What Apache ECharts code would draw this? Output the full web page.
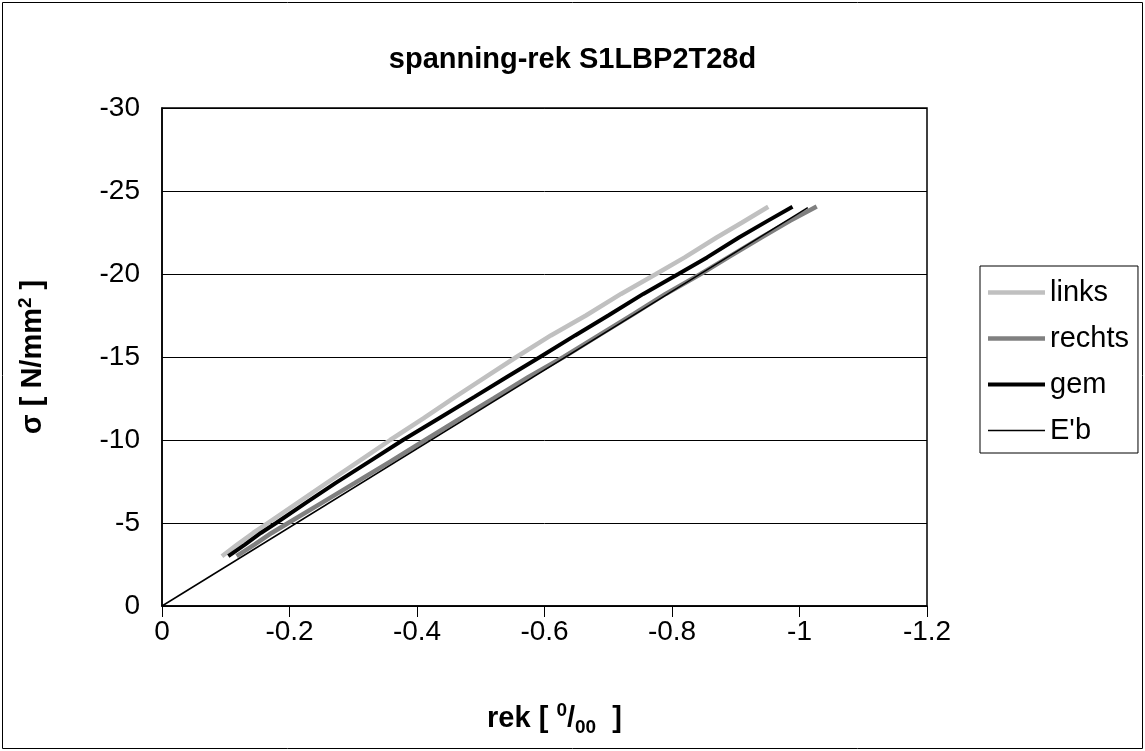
<!DOCTYPE html>
<html>
<head>
<meta charset="utf-8">
<script src="https://cdn.jsdelivr.net/npm/echarts@6/dist/echarts.min.js"></script>
<style>
html,body{margin:0;padding:0;background:#fff;}
#chart{width:1145px;height:751px;}
</style>
</head>
<body>
<div id="chart"></div>
<script>
// ---- data (strain in 0/00, stress in N/mm2) ----
var titleText = 'spanning-rek S1LBP2T28d';
var seriesNames = ['links', 'rechts', 'gem', "E'b"];
var xTicks = { min: -1.2, max: 0, interval: 0.2 };
var yTicks = { min: -30, max: 0, interval: 5 };

var linksData = [
  [-0.094,-3.0],[-0.118,-3.7],[-0.143,-4.4],[-0.166,-5.0],[-0.212,-6.2],[-0.258,-7.4],
  [-0.308,-8.7],[-0.358,-10.0],[-0.41,-11.3],[-0.46,-12.6],[-0.508,-13.8],[-0.556,-15.0],
  [-0.61,-16.3],[-0.665,-17.5],[-0.72,-18.8],[-0.775,-20.0],[-0.82,-21.0],[-0.87,-22.2],
  [-0.91,-23.1],[-0.951,-24.05]
];
var rechtsData = [
  [-0.117,-3.0],[-0.145,-3.7],[-0.172,-4.4],[-0.198,-5.0],[-0.25,-6.2],[-0.302,-7.4],
  [-0.358,-8.7],[-0.413,-10.0],[-0.468,-11.3],[-0.52,-12.5],[-0.575,-13.8],[-0.630,-15.0],
  [-0.685,-16.3],[-0.74,-17.6],[-0.79,-18.8],[-0.845,-20.0],[-0.89,-21.05],[-0.94,-22.2],
  [-0.985,-23.2],[-1.027,-24.07]
];
var gemData = [
  [-0.104,-3.0],[-0.13,-3.7],[-0.155,-4.4],[-0.179,-5.0],[-0.225,-6.2],[-0.272,-7.4],
  [-0.325,-8.7],[-0.378,-10.0],[-0.434,-11.3],[-0.49,-12.6],[-0.541,-13.8],[-0.593,-15.0],
  [-0.648,-16.3],[-0.70,-17.5],[-0.755,-18.8],[-0.81,-20.0],[-0.855,-21.0],[-0.905,-22.2],
  [-0.95,-23.2],[-0.989,-24.05]
];
var ebData = [[0,0],[-1.013,-24.0]];

var FONT = 'Liberation Sans, Arial, sans-serif';
var chart = echarts.init(document.getElementById('chart'), null, {renderer:'canvas'});

function barIcon(th) {
  var a = (14 - th) / 2, b = a + th;
  return 'path://M0,0L0,0M0,14L0,14M0,' + a + 'H57V' + b + 'H0Z';
}

var option = {
  animation: false,
  backgroundColor: '#ffffff',
  title: {
    text: titleText,
    left: 'center',
    top: 45,
    padding: 0,
    textStyle: { fontFamily: FONT, fontSize: 29, fontWeight: 'bold', color: '#000' }
  },
  legend: {
    orient: 'vertical',
    left: 980,
    top: 266,
    padding: [12, 9, 8, 8],
    itemGap: 17,
    itemWidth: 57,
    itemHeight: 14,
    borderColor: '#000',
    borderWidth: 1,
    itemStyle: { borderWidth: 0 },
    data: [
      { name: seriesNames[0], icon: barIcon(4.5) },
      { name: seriesNames[1], icon: barIcon(4.5) },
      { name: seriesNames[2], icon: barIcon(4) },
      { name: seriesNames[3], icon: barIcon(1.5) }
    ],
    textStyle: { fontFamily: FONT, fontSize: 29, color: '#000', lineHeight: 29 }
  },
  graphic: [{
    type: 'rect',
    shape: { x: 2.5, y: 2.5, width: 1140, height: 746 },
    style: { fill: 'none', stroke: '#000', lineWidth: 1 },
    silent: true
  }],
  grid: {
    left: 162, right: 218, top: 108, bottom: 145,
    show: true, borderColor: '#000', borderWidth: 1.5, backgroundColor: 'transparent'
  },
  xAxis: {
    type: 'value',
    inverse: true,
    min: xTicks.min, max: xTicks.max, interval: xTicks.interval,
    axisLine: { show: true, onZero: false, lineStyle: { color: '#000', width: 1.5 } },
    axisTick: { show: true, inside: false, length: 11, lineStyle: { color: '#000', width: 1 } },
    splitLine: { show: false },
    axisLabel: { fontFamily: FONT, fontSize: 28, color: '#000', margin: 12 },
    name: 'rek [ {sup|0}/{sub|00}  ]',
    nameLocation: 'middle',
    nameGap: 95,
    nameTextStyle: {
      fontFamily: FONT, fontSize: 29, fontWeight: 'bold', color: '#000', lineHeight: 36,
      padding: [0, 0, 0, 20],
      rich: {
        sup: { fontFamily: FONT, fontSize: 19, fontWeight: 'bold', verticalAlign: 'top', lineHeight: 19 },
        sub: { fontFamily: FONT, fontSize: 19, fontWeight: 'bold', verticalAlign: 'bottom', lineHeight: 19 }
      }
    }
  },
  yAxis: {
    type: 'value',
    inverse: true,
    min: yTicks.min, max: yTicks.max, interval: yTicks.interval,
    axisLine: { show: true, onZero: false, lineStyle: { color: '#000', width: 1.5 } },
    axisTick: { show: false },
    splitLine: { show: true, lineStyle: { color: '#000', width: 1 } },
    axisLabel: { fontFamily: FONT, fontSize: 28, color: '#000', margin: 22 },
    name: 'σ [ N/mm{sup|2} ]',
    nameLocation: 'middle',
    nameRotate: 90,
    nameGap: 112,
    nameTextStyle: {
      fontFamily: FONT, fontSize: 29, fontWeight: 'bold', color: '#000', lineHeight: 34,
      rich: {
        sup: { fontFamily: FONT, fontSize: 19, fontWeight: 'bold', verticalAlign: 'top', lineHeight: 19 }
      }
    }
  },
  series: [
    { name: 'links', type: 'line', data: linksData, symbol: 'none',
      lineStyle: { color: '#c0c0c0', width: 4.5 }, itemStyle: { color: '#c0c0c0', borderWidth: 0 }, z: 2 },
    { name: 'rechts', type: 'line', data: rechtsData, symbol: 'none',
      lineStyle: { color: '#808080', width: 4.5 }, itemStyle: { color: '#808080', borderWidth: 0 }, z: 3 },
    { name: 'gem', type: 'line', data: gemData, symbol: 'none',
      lineStyle: { color: '#000000', width: 4 }, itemStyle: { color: '#000000', borderWidth: 0 }, z: 4 },
    { name: "E'b", type: 'line', data: ebData, symbol: 'none',
      lineStyle: { color: '#000000', width: 1.5 }, itemStyle: { color: '#000000', borderWidth: 0 }, z: 5 }
  ]
};
chart.setOption(option);
</script>
</body>
</html>
